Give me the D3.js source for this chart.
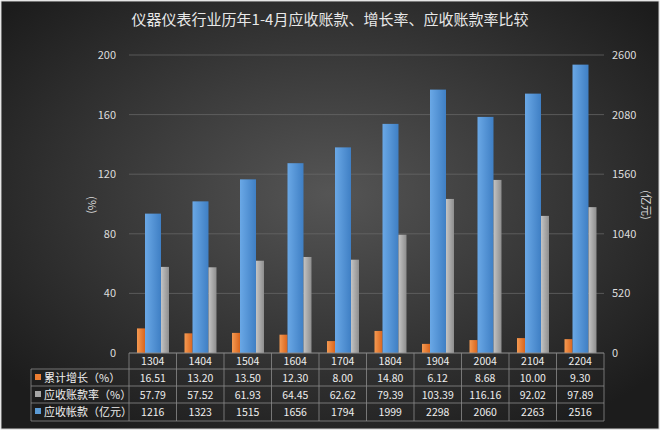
<!DOCTYPE html>
<html><head><meta charset="utf-8">
<script src="https://cdn.jsdelivr.net/npm/d3@7"></script>
<style>body{margin:0;background:#fff}text{font-family:"Noto Sans CJK SC",sans-serif}</style>
</head><body>
<div class="canvas"></div>
<script>
const categories = ['1304','1404','1504','1604','1704','1804','1904','2004','2104','2204'];
const growth = [16.51,13.20,13.50,12.30,8.00,14.80,6.12,8.68,10.00,9.30];
const ratio = [57.79,57.52,61.93,64.45,62.62,79.39,103.39,116.16,92.02,97.89];
const receivables = [1216,1323,1515,1656,1794,1999,2298,2060,2263,2516];
const leftTicks = [0,40,80,120,160,200];
const rightTicks = [0,520,1040,1560,2080,2600];
const rowLabels = ['累计增长（%）','应收账款率（%）','应收帐款（亿元）'];
const rowColors = ['#ed7d31','#a5a5a5','#5b9bd5'];

const svg = d3.select('.canvas').append('svg')
    .attr('width',660).attr('height',430);

const defs = svg.append('defs');
const grad = defs.append('radialGradient').attr('id','bg').attr('cx','50%').attr('cy','45%').attr('r','65%');
grad.append('stop').attr('offset','0%').attr('stop-color','#555');
grad.append('stop').attr('offset','100%').attr('stop-color','#1c1c1c');
const bg = (id, c1, c2) => {
  const g = defs.append('linearGradient').attr('id',id).attr('x1',0).attr('x2',1);
  g.append('stop').attr('offset','0%').attr('stop-color',c1);
  g.append('stop').attr('offset','100%').attr('stop-color',c2);
};
bg('gBlue','#6aa8e6','#3f7fc4');
bg('gGrey','#c4c4c4','#8e8e8e');
bg('gOrange','#f59a52','#d9651d');

svg.append('rect').attr('x',1).attr('y',1).attr('width',658).attr('height',428)
    .attr('fill','url(#bg)').attr('stroke','#ccc');

svg.append('text').attr('x',330).attr('y',25).attr('text-anchor','middle')
    .attr('fill','#e8e8e8').attr('font-size',15).text('仪器仪表行业历年1-4月应收账款、增长率、应收账款率比较');

const x = d3.scaleBand().domain(categories).range([129,604]);
const yL = d3.scaleLinear().domain([0,200]).range([353,55]);
const yR = d3.scaleLinear().domain([0,2600]).range([353,55]);

// gridlines
svg.append('g').selectAll('line').data(leftTicks).join('line')
    .attr('x1',129).attr('x2',604).attr('y1',d=>yL(d)).attr('y2',d=>yL(d))
    .attr('stroke','#6a6a6a').attr('stroke-width',0.7);

svg.append('g').selectAll('text').data(leftTicks).join('text')
    .attr('x',116).attr('y',d=>yL(d)+4).attr('text-anchor','end')
    .attr('fill','#ddd').attr('font-size',11).text(d=>d);
svg.append('g').selectAll('text').data(rightTicks).join('text')
    .attr('x',612).attr('y',d=>yR(d)+4)
    .attr('fill','#ddd').attr('font-size',11).text(d=>d);
svg.append('text').attr('transform','translate(88,205) rotate(90)').attr('text-anchor','middle')
    .attr('fill','#ddd').attr('font-size',11).text('(%)');
svg.append('text').attr('transform','translate(642,205) rotate(90)').attr('text-anchor','middle')
    .attr('fill','#ddd').attr('font-size',11).text('(亿元)');

const bw = x.bandwidth();
svg.append('g').selectAll('rect').data(growth).join('rect')
    .attr('x',(d,i)=>x(categories[i])+8).attr('width',8)
    .attr('y',d=>yL(d)).attr('height',d=>353-yL(d)).attr('fill','url(#gOrange)');
svg.append('g').selectAll('rect').data(receivables).join('rect')
    .attr('x',(d,i)=>x(categories[i])+16).attr('width',16)
    .attr('y',d=>yR(d)).attr('height',d=>353-yR(d)).attr('fill','url(#gBlue)');
svg.append('g').selectAll('rect').data(ratio).join('rect')
    .attr('x',(d,i)=>x(categories[i])+32).attr('width',8)
    .attr('y',d=>yL(d)).attr('height',d=>353-yL(d)).attr('fill','url(#gGrey)');

// data table
const rowsY = [353,369,386,403,421];
const tbl = svg.append('g').attr('stroke','#8a8a8a').attr('stroke-width',0.8);
rowsY.forEach((yy,i)=>tbl.append('line').attr('x1',i===0?129:31).attr('x2',604).attr('y1',yy).attr('y2',yy));
tbl.append('line').attr('x1',31).attr('x2',31).attr('y1',369).attr('y2',421);
categories.forEach(c=>tbl.append('line').attr('x1',x(c)).attr('x2',x(c)).attr('y1',353).attr('y2',421));
tbl.append('line').attr('x1',604).attr('x2',604).attr('y1',353).attr('y2',421);

const cell = (txt,cx,cy) => svg.append('text').attr('x',cx).attr('y',cy).attr('text-anchor','middle')
    .attr('fill','#eee').attr('font-size',10.5).text(txt);
categories.forEach((c,i)=>{
  const cx = x(c)+bw/2;
  cell(c,cx,365);
  cell(growth[i].toFixed(2),cx,382);
  cell(ratio[i].toFixed(2),cx,399);
  cell(receivables[i],cx,416);
});
rowLabels.forEach((l,i)=>{
  const cy = rowsY[i+1];
  svg.append('rect').attr('x',35).attr('y',cy+5).attr('width',6).attr('height',6).attr('fill',rowColors[i]);
  svg.append('text').attr('x',44).attr('y',cy+12.5).attr('fill','#eee').attr('font-size',11).text(l);
});
</script>
</body></html>
